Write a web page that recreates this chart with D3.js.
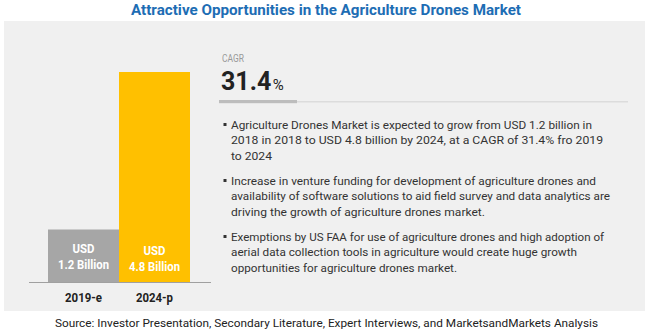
<!DOCTYPE html>
<html><head><meta charset="utf-8">
<script src="https://cdn.jsdelivr.net/npm/d3@7"></script>
<style>
html,body{margin:0;padding:0;background:#fff;}
svg{display:block;}
</style></head>
<body>
<svg id="chart" width="650" height="333"></svg>
<script>
const categories = ["2019-e", "2024-p"];
const values = [1.2, 4.8];
const barLabels = [["USD", "1.2 Billion"], ["USD", "4.8 Billion"]];
const barColors = ["#a6a6a6", "#ffc000"];
const title = "Attractive Opportunities in the Agriculture Drones Market";
const cagrLabel = "CAGR";
const cagrValue = "31.4";
const bullets = [
  ["Agriculture Drones Market is expected to grow from USD 1.2 billion in",
   "2018 in 2018 to USD 4.8 billion by 2024, at a CAGR of 31.4% fro 2019",
   "to 2024"],
  ["Increase in venture funding for development of agriculture drones and",
   "availability of software solutions to aid field survey and data analytics are",
   "driving the growth of agriculture drones market."],
  ["Exemptions by US FAA for use of agriculture drones and high adoption of",
   "aerial data collection tools in agriculture would create huge growth",
   "opportunities for agriculture drones market."]
];
const bulletWidths = [[361, 372, 41], [365, 379, 254], [373, 346, 226]];
const source = "Source: Investor Presentation, Secondary Literature, Expert Interviews, and MarketsandMarkets Analysis";

const svg = d3.select("#chart");
const FONT = "'Liberation Sans Narrow','Roboto','Liberation Sans',sans-serif";

// title
svg.append("text").attr("x", 326).attr("y", 14.5).attr("text-anchor", "middle")
  .attr("font-family", FONT).attr("font-weight", "bold").attr("font-size", 14)
  .attr("fill", "#1d6db4").attr("textLength", 390).attr("lengthAdjust", "spacingAndGlyphs")
  .text(title);

// panel
svg.append("rect").attr("x", 4).attr("y", 21).attr("width", 641).attr("height", 290).attr("fill", "#f0f0f0");

// bars
const x = d3.scaleBand().domain(categories).range([48, 190]).padding(0);
const y = d3.scaleLinear().domain([0, 4.8]).range([282, 72]);

svg.append("g").selectAll("rect").data(values).join("rect")
  .attr("x", (d, i) => x(categories[i]))
  .attr("y", d => y(d))
  .attr("width", x.bandwidth())
  .attr("height", d => y(0) - y(d))
  .attr("fill", (d, i) => barColors[i]);

svg.append("line").attr("x1", 29).attr("x2", 211).attr("y1", y(0) + 0.5).attr("y2", y(0) + 0.5)
  .attr("stroke", "#a0a0a0").attr("stroke-width", 1.2);

// bar value labels
const lblOff = [[0, 0], [2, 2]];
const lblW = [22, 51];
barLabels.forEach((lines, i) => {
  const cx = x(categories[i]) + x.bandwidth() / 2;
  lines.forEach((t, j) => {
    svg.append("text").attr("x", cx).attr("y", 253 + j * 16 + lblOff[i][j])
      .attr("text-anchor", "middle").attr("font-family", FONT).attr("font-weight", "bold")
      .attr("font-size", 12.5).attr("fill", "#fff")
      .attr("textLength", lblW[j]).attr("lengthAdjust", "spacingAndGlyphs")
      .text(t);
  });
});

// axis labels
const ax = svg.append("g").attr("transform", `translate(0,${y(0)})`)
  .call(d3.axisBottom(x).tickSize(0).tickPadding(11));
ax.select(".domain").remove();
ax.selectAll("text").attr("font-family", FONT).attr("font-weight", "bold")
  .attr("font-size", 12.5).attr("fill", "#222")
  .attr("textLength", 37).attr("lengthAdjust", "spacingAndGlyphs");

// CAGR
svg.append("text").attr("x", 222).attr("y", 62).attr("font-family", FONT)
  .attr("font-size", 11).attr("fill", "#999")
  .attr("textLength", 22).attr("lengthAdjust", "spacingAndGlyphs").text(cagrLabel);
const big = svg.append("text").attr("x", 221).attr("y", 90).attr("font-family", FONT).attr("fill", "#222")
  .attr("font-size", 25).attr("font-weight", "bold").text(cagrValue);
const bw = big.node().getComputedTextLength();
svg.append("text").attr("x", 221 + bw + 1.5).attr("y", 90).attr("font-family", FONT).attr("fill", "#222")
  .attr("font-size", 15).text("%");

svg.append("rect").attr("x", 219).attr("y", 101).attr("width", 409).attr("height", 1.5).attr("fill", "#dcdcdc");
svg.append("rect").attr("x", 219).attr("y", 100).attr("width", 78).attr("height", 3.2).attr("fill", "#bdbdbd");

// bullets
const bulletTop = [125, 181, 237];
bullets.forEach((lines, i) => {
  svg.append("rect").attr("x", 223.5).attr("y", bulletTop[i] - 2).attr("width", 3).attr("height", 3).attr("fill", "#333");
  lines.forEach((t, j) => {
    svg.append("text").attr("x", 231).attr("y", bulletTop[i] + j * 15.3 + 4)
      .attr("font-family", FONT).attr("font-size", 11.5).attr("fill", "#333")
      .attr("textLength", bulletWidths[i][j]).attr("lengthAdjust", "spacingAndGlyphs")
      .text(t);
  });
});

// source
svg.append("text").attr("x", 326.5).attr("y", 327).attr("text-anchor", "middle")
  .attr("font-family", FONT).attr("font-size", 11.5).attr("fill", "#222")
  .attr("textLength", 543).attr("lengthAdjust", "spacingAndGlyphs")
  .text(source);
</script>
</body></html>
